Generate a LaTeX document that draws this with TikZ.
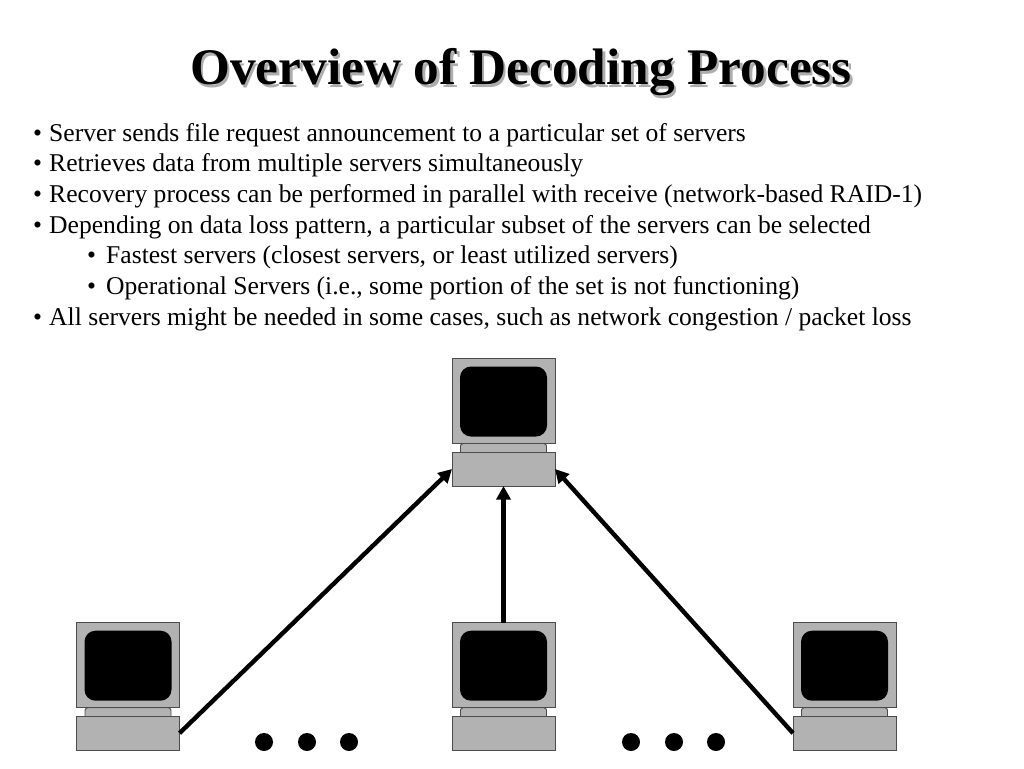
\documentclass[tikz,border=0pt]{standalone}
\usepackage{fontspec}
\setmainfont{Liberation Serif}
\usetikzlibrary{arrows.meta}
\definecolor{hwgray}{gray}{0.70}
\tikzset{
  x=1pt,y=-1pt,
  hw/.style={draw=black!70,line width=0.9pt,fill=hwgray,minimum width=103pt,inner sep=0pt,outer sep=0pt},
  screenbox/.style={fill=black,draw=none,rounded corners=11pt},
  standbox/.style={draw=black!70,line width=0.9pt,fill=hwgray},
  link/.style={line width=4.4pt,draw=black,-{Triangle[length=13.5pt,width=14pt]}},
  bodytext/.style={anchor=base west,inner sep=0pt,font=\fontsize{25.6}{28}\selectfont},
  titletext/.style={anchor=base,inner sep=0pt,font=\fontsize{51.3}{54}\selectfont\bfseries},
  dotmark/.style={circle,fill=black,minimum size=18pt,inner sep=0pt}
}
\newcommand{\computerat}[3]{%
  % #1 name, #2 left x, #3 top y
  \path[standbox] (#2+8.5,#3+100) -- (#2+8.5,#3+90) .. controls (#2+8.5,#3+86) .. (#2+11,#3+85) -- (#2+92,#3+85) .. controls (#2+94.5,#3+86) .. (#2+94.5,#3+90) -- (#2+94.5,#3+100) -- cycle;
  \node[hw,minimum height=85pt,anchor=north west] (#1mon) at (#2,#3) {};
  \node[hw,minimum height=34pt,anchor=north west] (#1base) at (#2,#3+93.5) {};
  \path[screenbox] (#2+8,#3+8) rectangle (#2+95,#3+78);
}
\begin{document}
\begin{tikzpicture}
\useasboundingbox (0,0) rectangle (1024,768);
\node[titletext,text=black!32] (titleshadow) at (523.5,87) {Overview of Decoding Process};
\node[titletext] (title) at (521,84) {Overview of Decoding Process};

\foreach \nm/\bx/\tx/\by/\txt in {
 a/33/49/141/{Server sends file request announcement to a particular set of servers},
 b/33/49/171.5/{Retrieves data from multiple servers simultaneously},
 c/33/49/202.3/{Recovery process can be performed in parallel with receive (network-based RAID-1)},
 d/33/49/233/{Depending on data loss pattern, a particular subset of the servers can be selected},
 e/87/106/263.7/{Fastest servers (closest servers, or least utilized servers)},
 f/87/106/294.7/{Operational Servers (i.e., some portion of the set is not functioning)},
 g/33/49/325.3/{All servers might be needed in some cases, such as network congestion / packet loss}}
{
  \node[bodytext] (bul\nm) at (\bx,\by) {•};
  \node[bodytext] (line\nm) at (\tx,\by) {\txt};
}

\computerat{top}{452}{358.5}
\computerat{left}{76.5}{622.7}
\computerat{mid}{452}{622.7}
\computerat{right}{793}{622.7}

\draw[link] (leftbase.east) -- (topbase.west);
\draw[link] (midmon.north) -- (topbase.south);
\draw[link] (rightbase.west) -- (topbase.east);

\node[dotmark] (d1) at (264,742) {};
\node[dotmark] (d2) at (307,742) {};
\node[dotmark] (d3) at (349,742) {};
\node[dotmark] (d4) at (631,742) {};
\node[dotmark] (d5) at (674,742) {};
\node[dotmark] (d6) at (716,742) {};
\end{tikzpicture}
\end{document}
